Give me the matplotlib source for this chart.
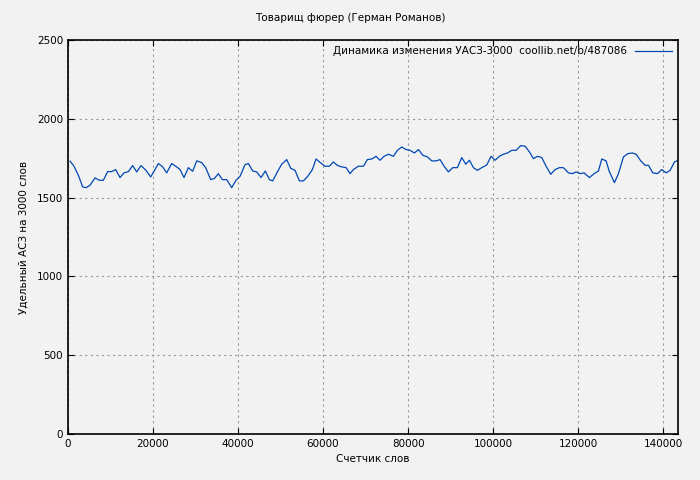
import matplotlib
matplotlib.use("Agg")
import matplotlib.pyplot as plt
from matplotlib.ticker import MultipleLocator

words = [500,1412,2431,3451,4235,5176,6353,7373,8314,9333,10275,11216,12235,13176,14196,15216,16157,17177,18353,19451,
         20471,21255,22275,23216,24392,25569,26353,27294,28314,29333,30275,31451,32392,33569,34431,35373,36314,37333,38510,39529,
         40471,41647,42431,43451,44392,45412,46431,47373,48157,49255,50275,51451,52392,53412,54431,55373,56392,57490,58353,59451,
         60471,61490,62431,63451,64392,65412,66353,67137,68314,69490,70431,71451,72471,73412,74353,75373,76549,77490,78510,79529,
         80471,81490,82431,83451,84549,85569,86588,87529,88471,89490,90510,91608,92627,93569,94431,95373,96314,97333,98510,99529,
         100471,101490,102431,103373,104392,105412,106510,107529,108549,109490,110431,111451,112471,113569,114588,115608,116549,117726,118667,119529,
         120471,121412,122667,123765,124784,125569,126588,127373,128549,129490,130667,131686,132784,133647,134745,135765,136549,137569,138667,139686,
         140706,141647,142667,143216]
values = [1731,1699,1642,1568,1563,1578,1625,1610,1610,1665,1665,1678,1627,1657,1665,1703,1663,1703,1673,1631,
          1678,1716,1695,1657,1716,1695,1678,1627,1690,1667,1733,1722,1690,1614,1621,1652,1614,1614,1563,1610,
          1635,1709,1716,1669,1663,1627,1669,1614,1606,1663,1712,1741,1686,1673,1606,1606,1635,1678,1745,1720,
          1699,1699,1726,1703,1695,1690,1652,1678,1699,1699,1741,1745,1762,1737,1762,1775,1762,1800,1821,1805,
          1800,1783,1805,1769,1758,1733,1733,1741,1699,1663,1690,1690,1754,1712,1737,1690,1673,1690,1707,1762,
          1737,1762,1775,1783,1800,1800,1830,1826,1790,1747,1762,1754,1699,1648,1678,1690,1690,1657,1652,1663,
          1652,1657,1627,1652,1669,1745,1733,1663,1595,1652,1758,1779,1783,1775,1733,1705,1705,1657,1652,1678,
          1657,1673,1726,1733]

title = "Товарищ фюрер (Герман Романов)"
series_label = "Динамика изменения УАСЗ-3000  coollib.net/b/487086"
xlabel = "Счетчик слов"
ylabel = "Удельный АСЗ на 3000 слов"

plt.rcParams['font.family'] = ['DejaVu Sans']
fig = plt.figure(figsize=(7, 4.8), dpi=100, facecolor='#f2f2f2')
ax = fig.add_axes([68/700, 1-434/480, (678-68)/700, (434-40)/480], facecolor='#f2f2f2')
ax.plot(words, values, color='#0047b3', lw=0.9, label=series_label)
ax.set_xlim(0, 143500)
ax.set_ylim(0, 2500)
ax.xaxis.set_major_locator(MultipleLocator(20000))
ax.yaxis.set_major_locator(MultipleLocator(500))
ax.grid(True, color='#999999', ls=(0, (2, 3)), lw=0.8)
ax.tick_params(labelsize=7.5, direction='in', length=4, top=True, right=True)
for s in ax.spines.values():
    s.set_linewidth(1.2)
fig.text(0.5, 1-18/480, title, ha='center', va='center', fontsize=7.5)
ax.set_xlabel(xlabel, fontsize=7.5, labelpad=4)
ax.set_ylabel(ylabel, fontsize=7.5, labelpad=6)
leg = ax.legend(loc='upper right', fontsize=7.5, frameon=False, markerfirst=False,
                handlelength=3.5, borderaxespad=0.2)
fig.savefig("out.png", dpi=100, facecolor='#f2f2f2')
